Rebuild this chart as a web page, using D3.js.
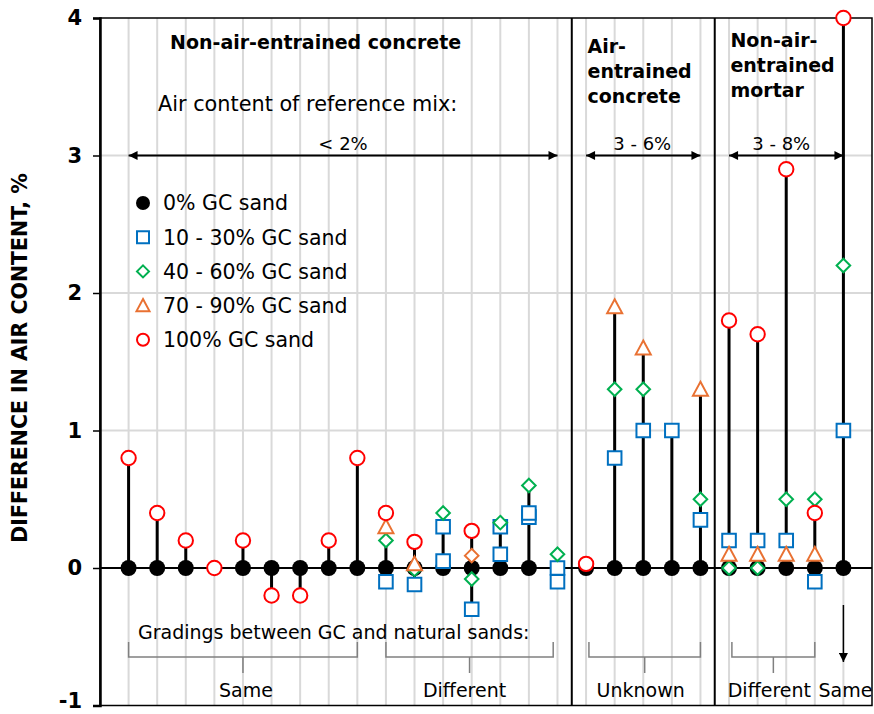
<!DOCTYPE html>
<html><head><meta charset="utf-8">
<script src="https://cdn.jsdelivr.net/npm/d3@7"></script>
<style>
body{margin:0;background:#fff;}
svg{display:block;}
text{font-family:"DejaVu Sans",sans-serif;fill:#000;}
</style></head>
<body><svg id="c" width="874" height="714"></svg>
<script>
// ---- data ----
const positions = d3.range(1, 27);          // 26 mix positions
const yTicks = [-1, 0, 1, 2, 3, 4];
const seriesNames = ["0% GC sand", "10 - 30% GC sand", "40 - 60% GC sand", "70 - 90% GC sand", "100% GC sand"];
const gc0 = [[1,0],[2,0],[3,0],[5,0],[6,0],[7,0],[8,0],[9,0],[10,0],[11,0],[12,0],[13,0],[14,0],[15,0],[17,0],[18,0],[19,0],[20,0],[21,0],[22,0],[23,0],[24,0],[25,0],[26,0]];
const gc10_30 = [[10,-0.1],[11,-0.12],[12,0.05],[12,0.3],[13,-0.3],[14,0.1],[14,0.3],[15,0.37],[15,0.4],[16,0],[16,-0.1],[18,0.8],[19,1.0],[20,1.0],[21,0.35],[22,0.2],[23,0.2],[24,0.2],[25,-0.1],[26,1.0]];
const gc40_60 = [[10,0.2],[11,-0.01],[12,0.4],[13,-0.08],[14,0.33],[15,0.6],[16,0.1],[18,1.3],[19,1.3],[21,0.5],[22,0],[23,0],[24,0.5],[25,0.5],[26,2.2]];
const gc70_90 = [[10,0.3],[11,0.03],[18,1.9],[19,1.6],[21,1.3],[22,0.1],[23,0.1],[24,0.1],[25,0.1]];
const gc70_90diamond = [[13,0.09]];
const gc100 = [[1,0.8],[2,0.4],[3,0.2],[4,0],[5,0.2],[6,-0.2],[7,-0.2],[8,0.2],[9,0.8],[10,0.4],[11,0.19],[13,0.27],[17,0.03],[22,1.8],[23,1.7],[24,2.9],[25,0.4],[26,4.0]];
const groupSeparators = [16.5, 21.5];
const groupTitles = [
  {pos: 2.45, y: 49, lines: ["Non-air-entrained concrete"]},
  {pos: 17.05, y: 53, lines: ["Air-", "entrained", "concrete"]},
  {pos: 22.05, y: 47, lines: ["Non-air-", "entrained", "mortar"]}
];
const refRanges = [{from: 1, to: 16, label: "< 2%", dx: 0}, {from: 17, to: 21, label: "3 - 6%", dx: -1}, {from: 22, to: 26, label: "3 - 8%", dx: -5}];
const gradingBrackets = [{from: 1, to: 9, label: "Same", dx: 3}, {from: 10, to: 15.85, label: "Different", dx: -5}, {from: 17.1, to: 21, label: "Unknown", dx: -4}, {from: 22.1, to: 25, label: "Different", dx: -4}];

// ---- scales ----
const svg = d3.select("#c");
const x = d3.scaleLinear().domain([0, 27]).range([100, 872]);
const y = d3.scaleLinear().domain([-1, 4]).range([705.5, 18]);
const colors = {sq: "#0070C0", di: "#00B050", tr: "#E97132", ci: "#FF0000"};

// grid
svg.append("g").selectAll("line").data(positions).join("line")
  .attr("x1", d => x(d)).attr("x2", d => x(d)).attr("y1", y(4)).attr("y2", y(-1))
  .attr("stroke", "#d9d9d9").attr("stroke-width", 2);
svg.append("g").selectAll("line").data([1, 2, 3]).join("line")
  .attr("x1", x(0)).attr("x2", x(27)).attr("y1", d => y(d)).attr("y2", d => y(d))
  .attr("stroke", "#d9d9d9").attr("stroke-width", 2);

// frame
svg.append("rect").attr("x", x(0)).attr("y", y(4)).attr("width", x(27) - x(0)).attr("height", y(-1) - y(4))
  .attr("fill", "none").attr("stroke", "#000").attr("stroke-width", 1.5);
svg.append("line").attr("x1", x(0)).attr("x2", x(27)).attr("y1", y(0)).attr("y2", y(0)).attr("stroke", "#000").attr("stroke-width", 2);
svg.append("g").selectAll("line").data(groupSeparators).join("line")
  .attr("x1", d => x(d)).attr("x2", d => x(d)).attr("y1", y(4)).attr("y2", y(-1))
  .attr("stroke", "#000").attr("stroke-width", 2);

// y axis
const ax = svg.append("g").attr("transform", `translate(${x(0)},0)`)
  .call(d3.axisLeft(y).tickValues(yTicks).tickSize(7).tickPadding(11).tickFormat(d => String(d)));
ax.select(".domain").attr("stroke", "#000").attr("stroke-width", 2.5);
ax.selectAll(".tick line").attr("stroke", "#000").attr("stroke-width", 1.5);
ax.selectAll(".tick text").style("font-size", "21px").style("font-weight", "bold")
  .style("font-family", "'DejaVu Sans',sans-serif")
  .attr("dy", d => d === -1 ? "0.1em" : "0.32em");
svg.append("text").attr("transform", `translate(27,358) rotate(-90)`).attr("text-anchor", "middle")
  .style("font-size", "20.5px").style("font-weight", "bold").text("DIFFERENCE IN AIR CONTENT, %");

// stems (min to max of all values at a position)
const all = [].concat(gc0, gc10_30, gc40_60, gc70_90, gc70_90diamond, gc100);
const stems = d3.rollups(all, v => [d3.min(v, d => d[1]), d3.max(v, d => d[1])], d => d[0]);
svg.append("g").selectAll("line").data(stems).join("line")
  .attr("x1", d => x(d[0])).attr("x2", d => x(d[0]))
  .attr("y1", d => y(d[1][0])).attr("y2", d => y(d[1][1]))
  .attr("stroke", "#000").attr("stroke-width", 3);

// marker shapes
const shapes = {
  dot: r => `M${-r},0A${r},${r} 0 1,0 ${r},0A${r},${r} 0 1,0 ${-r},0Z`,
  sq: s => `M${-s},${-s}H${s}V${s}H${-s}Z`,
  di: s => `M0,${-s}L${s},0L0,${s}L${-s},0Z`,
  tr: s => `M0,${-s}L${s},${s * 0.85}H${-s}Z`
};
function drawSeries(data, path, fill, stroke, sw) {
  svg.append("g").selectAll("path").data(data).join("path")
    .attr("transform", d => `translate(${x(d[0])},${y(d[1])})`)
    .attr("d", path).attr("fill", fill).attr("stroke", stroke).attr("stroke-width", sw);
}
drawSeries(gc0, shapes.dot(8), "#000", "none", 0);
drawSeries(gc10_30, shapes.sq(6.8), "#fff", colors.sq, 2);
drawSeries(gc40_60, shapes.di(6.8), "#fff", colors.di, 2);
drawSeries(gc70_90, shapes.tr(7.5), "#fff", colors.tr, 2);
drawSeries(gc70_90diamond, shapes.di(6.8), "#fff", colors.tr, 2);
drawSeries(gc100, shapes.dot(7.2), "#fff", colors.ci, 2);

// legend
const legendShapes = [
  {p: shapes.dot(7), f: "#000", s: "none"},
  {p: shapes.sq(6), f: "#fff", s: colors.sq},
  {p: shapes.di(6), f: "#fff", s: colors.di},
  {p: shapes.tr(6.5), f: "#fff", s: colors.tr},
  {p: shapes.dot(6), f: "#fff", s: colors.ci}
];
const lg = svg.append("g").selectAll("g").data(seriesNames).join("g")
  .attr("transform", (d, i) => `translate(143,${203 + i * 34.2})`);
lg.append("path").attr("d", (d, i) => legendShapes[i].p).attr("fill", (d, i) => legendShapes[i].f)
  .attr("stroke", (d, i) => legendShapes[i].s).attr("stroke-width", 2);
lg.append("text").attr("x", 20).attr("dy", "0.36em").style("font-size", "20.5px").text(d => d);

// group titles
groupTitles.forEach(g => {
  const t = svg.append("text").attr("x", x(g.pos)).attr("y", g.y)
    .style("font-size", "19px").style("font-weight", "bold");
  g.lines.forEach((l, i) => t.append("tspan").attr("x", x(g.pos)).attr("dy", i ? 25 : 0).text(l));
});
svg.append("text").attr("x", 158).attr("y", 111).style("font-size", "20.8px").text("Air content of reference mix:");

// reference-range arrows
const defs = svg.append("defs");
defs.append("marker").attr("id", "ah").attr("viewBox", "0 0 10 10").attr("refX", 10).attr("refY", 5)
  .attr("markerWidth", 12).attr("markerHeight", 9).attr("markerUnits", "userSpaceOnUse").attr("orient", "auto-start-reverse")
  .append("path").attr("d", "M0,0L10,5L0,10Z").attr("fill", "#000");
refRanges.forEach(r => {
  svg.append("line").attr("x1", x(r.from)).attr("x2", x(r.to)).attr("y1", y(3)).attr("y2", y(3))
    .attr("stroke", "#000").attr("stroke-width", 2)
    .attr("marker-start", "url(#ah)").attr("marker-end", "url(#ah)");
  svg.append("text").attr("x", (x(r.from) + x(r.to)) / 2 + r.dx).attr("y", y(3) - 6).attr("text-anchor", "middle")
    .style("font-size", "18px").text(r.label);
});

// gradings annotation
svg.append("text").attr("x", 138).attr("y", 639).style("font-size", "19px").text("Gradings between GC and natural sands:");
gradingBrackets.forEach(b => {
  const x0 = x(b.from), x1 = x(b.to), xm = (x0 + x1) / 2;
  svg.append("path").attr("d", `M${x0},642V657H${x1}V642M${xm},657V673`)
    .attr("fill", "none").attr("stroke", "#808080").attr("stroke-width", 1.5);
  svg.append("text").attr("x", xm + b.dx).attr("y", 697).attr("text-anchor", "middle").style("font-size", "19px").text(b.label);
});
svg.append("line").attr("x1", x(26)).attr("x2", x(26)).attr("y1", 605).attr("y2", 662)
  .attr("stroke", "#000").attr("stroke-width", 1.5).attr("marker-end", "url(#ah)");
svg.append("text").attr("x", x(26) + 2).attr("y", 697).attr("text-anchor", "middle").style("font-size", "19px").text("Same");
</script></body></html>
